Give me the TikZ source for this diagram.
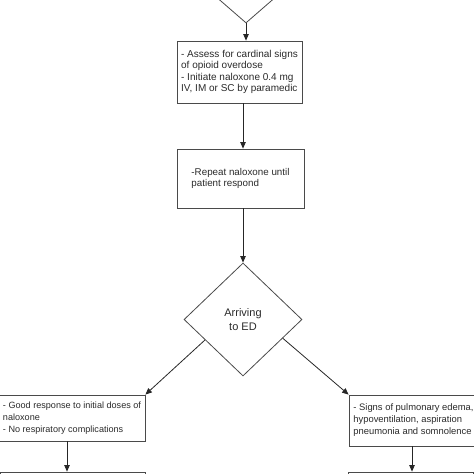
\documentclass[tikz,border=0pt]{standalone}
\usepackage{fontspec}
\setmainfont{Liberation Sans}
\usetikzlibrary{shapes.geometric,arrows.meta,calc}
\definecolor{linec}{HTML}{4A4A4A}
\definecolor{txtc}{HTML}{2A2A2A}
\begin{document}
\begin{tikzpicture}[x=1pt,y=-1pt,
  box/.style={draw=linec,line width=0.8pt,rectangle,inner sep=0pt,align=left,text=txtc},
  dia/.style={draw=linec,line width=0.8pt,diamond,inner sep=0pt,align=center,text=txtc,
     font=\fontsize{11}{14}\selectfont},
  arr/.style={draw=black!85,line width=0.8pt,-{Triangle[length=6.5pt,width=5.5pt]}}]
\useasboundingbox (0,0) rectangle (474,474);
\clip (0,0) rectangle (474,474);
\node[dia,minimum width=115,minimum height=100] (d1) at (246,-27) {};
\node[box,minimum width=125,minimum height=62,font=\fontsize{10}{11.2}\selectfont] (b1) at (239.5,72)
  {- Assess for cardinal signs\\of opioid overdose\\- Initiate naloxone 0.4 mg\\IV, IM or SC by paramedic};
\node[box,minimum width=127,minimum height=59,font=\fontsize{9.8}{11}\selectfont] (b2) at (240.5,178.5)
  {-Repeat naloxone until\\patient respond};
\node[dia,minimum width=118,minimum height=113] (d2) at (243,319.5) {Arriving\\to ED};
\node[box,minimum width=146,minimum height=46,font=\fontsize{9.1}{12}\selectfont] (bl) at (72,418)
  {- Good response to initial doses of\\naloxone\\- No respiratory complications};
\node[box,minimum width=129,minimum height=51,font=\fontsize{9.4}{12}\selectfont] (br) at (413.5,420.5)
  {- Signs of pulmonary edema,\\hypoventilation, aspiration\\pneumonia and somnolence};
\node[box,minimum width=144.5,minimum height=40] (bl2) at (72.75,492) {};
\node[box,minimum width=125,minimum height=40] (br2) at (410.5,492) {};
\draw[arr] (d1.south) -- (d1.south |- b1.north);
\draw[arr] ([xshift=3.5pt]b1.south) -- ([xshift=3.5pt]b1.south |- b2.north);
\draw[arr] (b2.south -| d2.north) -- (d2.north);
\draw[arr] ($(d2.west)!0.36!(d2.south)$) -- (bl.north east);
\draw[arr] ($(d2.east)!0.33!(d2.south)$) -- (br.north west);
\draw[arr] ([xshift=-5pt]bl.south) -- ([xshift=-5pt]bl.south |- bl2.north);
\draw[arr] ([xshift=-1.5pt]br.south) -- ([xshift=-1.5pt]br.south |- br2.north);
\end{tikzpicture}
\end{document}
